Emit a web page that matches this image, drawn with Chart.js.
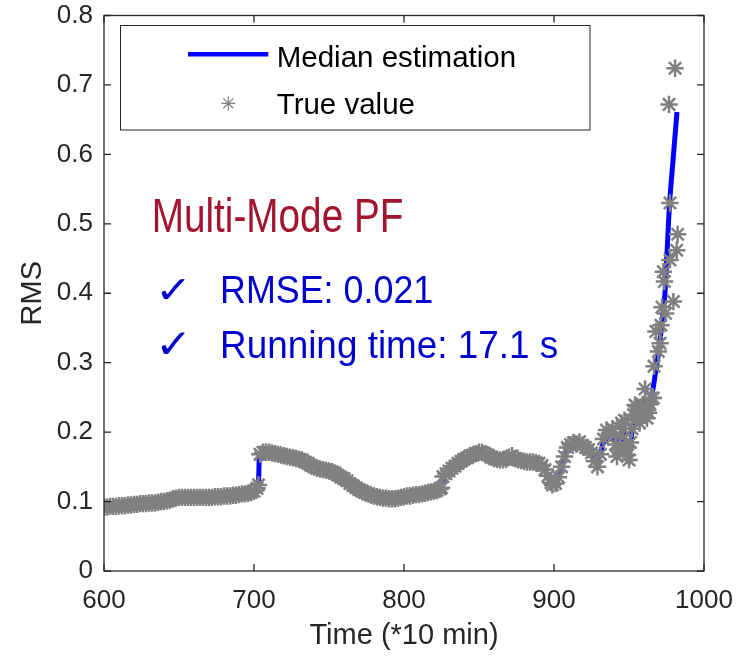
<!DOCTYPE html>
<html><head><meta charset="utf-8">
<script src="https://cdn.jsdelivr.net/npm/chart.js@4"></script>
<style>html,body{margin:0;padding:0;background:#fff}#wrap{width:736px;height:659px}</style>
</head><body><div id="wrap"><canvas id="c" width="736" height="659"></canvas></div>
<script>
// ---- data ----
const seriesNames = ['Median estimation', 'True value'];
const xTicks = [600, 700, 800, 900, 1000];
const yTicks = [0, 0.1, 0.2, 0.3, 0.4, 0.5, 0.6, 0.7, 0.8];
const xTitle = 'Time (*10 min)';
const yTitle = 'RMS';
const annotTitle = 'Multi-Mode PF';
const annotLines = ['RMSE: 0.021', 'Running time: 17.1 s'];

const medianTime = [600,606,612,618,624,630,636,642,648,654,660,666,672,678,684,690,696,700,703,703.5,706,712,718,724,730,736,742,748,754,760,766,772,778,784,790,796,802,808,814,820,825,826,829,835,841,847,850,856,862,868,874,880,886,892,895,897,899,901,903,905,907,909,913,917,921,925,929,933,937,940,942,944,946,948,950,952,954,956,958,960,962,964,966,970,974,977,982];
const medianRMS = [0.092,0.093,0.094,0.095,0.097,0.098,0.099,0.101,0.105,0.106,0.106,0.106,0.106,0.107,0.108,0.110,0.112,0.116,0.121,0.168,0.171,0.170,0.167,0.164,0.161,0.155,0.148,0.145,0.141,0.133,0.123,0.115,0.109,0.106,0.104,0.105,0.108,0.110,0.112,0.115,0.120,0.136,0.142,0.153,0.162,0.168,0.171,0.167,0.161,0.161,0.162,0.158,0.157,0.152,0.142,0.130,0.124,0.126,0.135,0.150,0.165,0.178,0.185,0.184,0.178,0.170,0.158,0.185,0.198,0.195,0.172,0.190,0.205,0.175,0.165,0.200,0.230,0.225,0.220,0.240,0.230,0.240,0.262,0.318,0.400,0.530,0.661];

const trueTime = [600,602,604,606,608,610,612,614,616,618,620,622,624,626,628,630,632,634,636,638,640,642,644,646,648,650,652,654,656,658,660,662,664,666,668,670,672,674,676,678,680,682,684,686,688,690,692,694,696,698,700,702,703,
704,706,708,710,712,714,716,718,720,722,724,726,728,730,732,734,736,738,740,742,744,746,748,750,752,754,756,758,760,762,764,766,768,770,772,774,776,778,780,782,784,786,788,790,792,794,796,798,800,802,804,806,808,810,812,814,816,818,820,822,824,825,
826,828,830,832,834,836,838,840,842,844,846,848,850,852,854,856,858,860,862,864,866,868,870,872,874,876,878,880,882,884,886,888,890,892,894,896,898,899,
901,903,905,907,909,911,913,915,917,919,921,923,925,927,929,931,933,935,937,939,941,942,943,944,945,946,947,948,949,950,951,952,953,954,955,956,957,958,959,960.7,961.8,962,963,964,965,966.2,966.7,968,969.6,970.7,971.3,972,972.9,973.6,974.4,976.7,977.3,977.3,979.6,980.7,981.8,982.4];
const trueRMS = [0.092,0.092,0.093,0.093,0.093,0.094,0.094,0.094,0.095,0.095,0.096,0.096,0.097,0.097,0.097,0.098,0.098,0.098,0.099,0.100,0.100,0.101,0.102,0.104,0.105,0.106,0.106,0.106,0.106,0.106,0.106,0.106,0.106,0.106,0.106,0.106,0.106,0.107,0.107,0.107,0.108,0.108,0.108,0.109,0.109,0.110,0.111,0.111,0.112,0.113,0.115,0.119,0.124,
0.168,0.171,0.171,0.171,0.170,0.169,0.168,0.167,0.166,0.165,0.164,0.163,0.162,0.161,0.160,0.157,0.155,0.152,0.150,0.148,0.147,0.146,0.145,0.144,0.143,0.141,0.138,0.135,0.133,0.130,0.126,0.123,0.120,0.117,0.115,0.113,0.111,0.109,0.108,0.107,0.106,0.105,0.105,0.104,0.104,0.104,0.105,0.106,0.107,0.108,0.108,0.109,0.110,0.110,0.111,0.112,0.113,0.114,0.115,0.116,0.118,0.120,
0.136,0.140,0.144,0.148,0.151,0.155,0.158,0.161,0.163,0.166,0.167,0.169,0.171,0.171,0.169,0.167,0.164,0.162,0.161,0.160,0.160,0.161,0.164,0.166,0.162,0.160,0.159,0.158,0.157,0.157,0.157,0.156,0.155,0.152,0.146,0.137,0.127,0.124,
0.126,0.135,0.150,0.165,0.178,0.182,0.185,0.183,0.186,0.181,0.178,0.175,0.170,0.158,0.150,0.168,0.190,0.203,0.198,0.205,0.182,0.165,0.175,0.195,0.213,0.205,0.217,0.178,0.167,0.160,0.185,0.205,0.225,0.239,0.237,0.228,0.213,0.222,0.240,0.262,0.232,0.220,0.228,0.240,0.249,0.249,0.295,0.345,0.316,0.328,0.354,0.380,0.431,0.417,0.371,0.672,0.530,0.448,0.388,0.724,0.462,0.485];

// ---- styling ----
const AX = '#262626';
const FONT = "'Liberation Sans', Arial, sans-serif";

const toPts = (xs, ys) => xs.map((x, i) => ({x: x, y: ys[i]}));

function drawStar(ctx, x, y, r, color, lw) {
  ctx.save();
  ctx.strokeStyle = color; ctx.lineWidth = lw;
  ctx.beginPath();
  for (let k = 0; k < 4; k++) {
    const a = k * Math.PI / 4;
    ctx.moveTo(x - r * Math.cos(a), y - r * Math.sin(a));
    ctx.lineTo(x + r * Math.cos(a), y + r * Math.sin(a));
  }
  ctx.stroke();
  ctx.restore();
}

function fitText(ctx, text, x, y, font, color, width) {
  ctx.save();
  ctx.font = font;
  ctx.fillStyle = color;
  ctx.textAlign = 'left';
  ctx.textBaseline = 'alphabetic';
  const w = ctx.measureText(text).width;
  ctx.translate(x, y);
  ctx.scale(width / w, 1);
  ctx.fillText(text, 0, 0);
  ctx.restore();
}

// scale a glyph so its ink fills the box (x0,y0)-(x1,y1)
function fitBox(ctx, text, x0, y0, x1, y1, font, color) {
  ctx.save();
  ctx.font = font;
  ctx.fillStyle = color;
  ctx.textAlign = 'left';
  ctx.textBaseline = 'alphabetic';
  const m = ctx.measureText(text);
  const iw = m.actualBoundingBoxLeft + m.actualBoundingBoxRight;
  const ih = m.actualBoundingBoxAscent + m.actualBoundingBoxDescent;
  const sx = (x1 - x0) / iw, sy = (y1 - y0) / ih;
  ctx.translate(x0, y0);
  ctx.scale(sx, sy);
  ctx.fillText(text, m.actualBoundingBoxLeft, m.actualBoundingBoxAscent);
  ctx.restore();
}

const decor = {
  id: 'decor',
  afterDatasetsDraw(chart) {
    const {ctx, chartArea: ca, scales} = chart;
    ctx.save();
    // axes box
    ctx.strokeStyle = AX; ctx.lineWidth = 1.3;
    ctx.strokeRect(ca.left, ca.top, ca.right - ca.left, ca.bottom - ca.top);
    // inward ticks
    ctx.beginPath();
    const tl = 7;
    xTicks.forEach(v => {
      const px = scales.x.getPixelForValue(v);
      ctx.moveTo(px, ca.bottom); ctx.lineTo(px, ca.bottom - tl);
      ctx.moveTo(px, ca.top); ctx.lineTo(px, ca.top + tl);
    });
    yTicks.forEach(v => {
      const py = scales.y.getPixelForValue(v);
      ctx.moveTo(ca.left, py); ctx.lineTo(ca.left + tl, py);
      ctx.moveTo(ca.right, py); ctx.lineTo(ca.right - tl, py);
    });
    ctx.stroke();

    // legend
    ctx.fillStyle = '#fff';
    ctx.fillRect(120.5, 25.5, 469.5, 104.5);
    ctx.strokeStyle = AX; ctx.lineWidth = 1;
    ctx.strokeRect(120.5, 25.5, 469.5, 104.5);
    ctx.strokeStyle = '#0000FF'; ctx.lineWidth = 4.5;
    ctx.beginPath(); ctx.moveTo(188, 54.3); ctx.lineTo(268.3, 54.3); ctx.stroke();
    drawStar(ctx, 228.3, 103.3, 7, '#808080', 1.2);
    ctx.fillStyle = '#000';
    ctx.font = '29.5px ' + FONT;
    ctx.textBaseline = 'alphabetic'; ctx.textAlign = 'left';
    ctx.fillText(seriesNames[0], 276.7, 66.5);
    ctx.fillText(seriesNames[1], 276.7, 113.5);

    // annotation
    fitText(ctx, annotTitle, 151.7, 231.7, '49px ' + FONT, '#A2142F', 251.7);
    fitBox(ctx, '\u2713', 161.7, 278.3, 185, 300, '40px "DejaVu Sans"', '#0000CC');
    fitText(ctx, annotLines[0], 220, 303.3, '39px ' + FONT, '#0000CC', 213.3);
    fitBox(ctx, '\u2713', 161.7, 331.7, 185, 355, '40px "DejaVu Sans"', '#0000CC');
    fitText(ctx, annotLines[1], 220, 358.3, '39px ' + FONT, '#0000CC', 338.3);
    ctx.restore();
  }
};

new Chart(document.getElementById('c'), {
  type: 'scatter',
  data: {
    datasets: [
      {
        label: seriesNames[0],
        data: toPts(medianTime, medianRMS),
        showLine: true,
        borderColor: '#0000FF',
        backgroundColor: '#0000FF',
        borderWidth: 5,
        pointRadius: 0,
        tension: 0,
        order: 2
      },
      {
        label: seriesNames[1],
        data: toPts(trueTime, trueRMS),
        showLine: false,
        pointStyle: 'star',
        pointRadius: 8.7,
        pointBorderWidth: 2.5,
        borderColor: '#808080',
        backgroundColor: '#808080',
        order: 1
      }
    ]
  },
  options: {
    responsive: false,
    animation: false,
    devicePixelRatio: 1,
    layout: {padding: {top: 15.5, right: 32, left: 0, bottom: 0}},
    plugins: {legend: {display: false}, tooltip: {enabled: false}},
    scales: {
      x: {
        type: 'linear', min: 600, max: 1000,
        afterBuildTicks: s => { s.ticks = xTicks.map(v => ({value: v})); },
        afterFit: s => { s.height = 88; s.paddingLeft = 0; s.paddingRight = 0; },
        grid: {display: false, drawTicks: false},
        border: {display: false},
        ticks: {color: AX, font: {family: FONT, size: 26}, padding: 14, maxRotation: 0, callback: v => String(v)},
        title: {display: true, text: xTitle, color: AX, font: {family: FONT, size: 29, lineHeight: 1}, padding: {top: 0, bottom: 8.5}}
      },
      y: {
        type: 'linear', min: 0, max: 0.8,
        afterBuildTicks: s => { s.ticks = yTicks.map(v => ({value: v})); },
        afterFit: s => { s.width = 104; s.paddingTop = 0; s.paddingBottom = 0; },
        grid: {display: false, drawTicks: false},
        border: {display: false},
        ticks: {color: AX, font: {family: FONT, size: 26}, padding: 11, callback: v => String(Math.round(v * 10) / 10)},
        title: {display: true, text: yTitle, color: AX, font: {family: FONT, size: 29, lineHeight: 1}, padding: {top: 18, bottom: 0}}
      }
    }
  },
  plugins: [decor]
});
</script>
</body></html>
